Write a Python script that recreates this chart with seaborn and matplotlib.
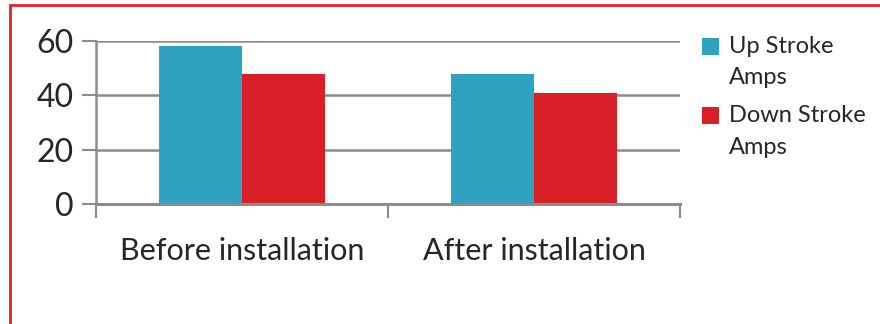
import matplotlib
matplotlib.use("Agg")
import matplotlib.pyplot as plt
import seaborn as sns
import pandas as pd
from matplotlib.patches import Rectangle
from matplotlib.legend_handler import HandlerPatch

categories = ["Before installation", "After installation"]
series_names = ["Up Stroke\nAmps", "Down Stroke\nAmps"]
up_stroke = [58, 48]
down_stroke = [48, 41]
colors = ["#2EA2BF", "#D91F28"]

df = pd.DataFrame({
    "category": categories * 2,
    "series": [series_names[0]] * 2 + [series_names[1]] * 2,
    "value": up_stroke + down_stroke,
})

sns.set_style("white")
plt.rcParams['font.family'] = ['Lato', 'DejaVu Sans']

fig = plt.figure(figsize=(8.8, 3.24), dpi=100)
ax = fig.add_axes([96/880, 1-204/324, (680-96)/880, (204-41)/324])

sns.barplot(data=df, x="category", y="value", hue="series", palette=colors,
            width=0.57, ax=ax, saturation=1, edgecolor="none", linewidth=0)

ax.set_ylim(0, 60)
ax.set_xlim(-0.5, 1.5)
ax.set_yticks([0, 20, 40, 60])
ax.yaxis.grid(True, color="#8C8C8C", linewidth=1.8)
ax.set_axisbelow(True)
ax.set_xlabel("")
ax.set_ylabel("")
for s in ["top", "right"]:
    ax.spines[s].set_visible(False)
ax.spines["left"].set_color("#8C8C8C")
ax.spines["left"].set_linewidth(1.8)
ax.spines["bottom"].set_color("#8C8C8C")
ax.spines["bottom"].set_linewidth(2.2)

ax.tick_params(axis="y", length=10, width=1.5, color="#8C8C8C", labelsize=23, pad=6, left=True)
ax.set_xticks([0, 1])
ax.set_xticklabels(categories, fontsize=22)
ax.tick_params(axis="x", length=0, pad=24)
ax.set_xticks([-0.5, 0.5, 1.5], minor=True)
ax.tick_params(axis="x", which="minor", length=10, width=1.5, color="#8C8C8C", bottom=True)


def top_square(legend, orig_handle, xdescent, ydescent, width, height, fontsize):
    return Rectangle((-xdescent, -ydescent + height - width + 0.18 * fontsize), width, width)


leg = ax.legend(loc="upper left", bbox_to_anchor=(702/880, 1 - 36/324),
                bbox_transform=fig.transFigure, frameon=False,
                fontsize=17, handlelength=0.73, handleheight=2.4, handletextpad=0.4,
                labelspacing=0.73, borderpad=0, borderaxespad=0,
                handler_map={Rectangle: HandlerPatch(patch_func=top_square)})
for t in leg.get_texts():
    t.set_linespacing(1.6)

border = Rectangle((9.5/880, -0.05), 1.2, 1.05 - 5.5/324, transform=fig.transFigure,
                   fill=False, edgecolor="#E02128", linewidth=2)
fig.patches.append(border)

fig.savefig("out.png", dpi=100, facecolor="white")
